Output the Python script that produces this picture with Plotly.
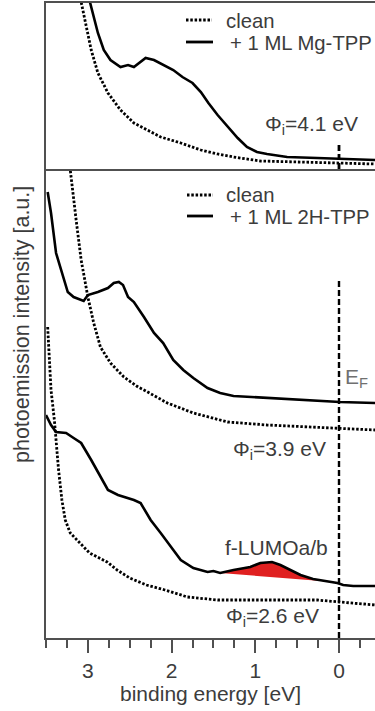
import numpy as np
import plotly.graph_objects as go

# ---------------- data (binding energy [eV], intensity [a.u.]) ----------------
# top panel: Mg-TPP
mg_clean_be = [3.10, 3.02, 2.96, 2.88, 2.76, 2.61, 2.45, 2.29, 2.13, 1.89, 1.65, 1.45, 1.26, 0.94, 0.46, -0.01, -0.43]
mg_clean_i = [1.75, 1.42, 1.19, 0.96, 0.76, 0.59, 0.46, 0.39, 0.32, 0.26, 0.19, 0.15, 0.12, 0.08, 0.07, 0.06, 0.05]

mg_tpp_be = [3.00, 2.88, 2.81, 2.73, 2.61, 2.52, 2.45, 2.37, 2.31, 2.21, 2.10, 1.98, 1.87, 1.75, 1.65, 1.56,
             1.45, 1.33, 1.21, 1.10, 0.98, 0.86, 0.62, 0.26, -0.01, -0.43]
mg_tpp_i = [1.75, 1.36, 1.19, 1.09, 1.02, 1.04, 1.02, 1.07, 1.11, 1.09, 1.04, 0.99, 0.92, 0.86, 0.77, 0.66,
            0.54, 0.42, 0.31, 0.22, 0.17, 0.15, 0.12, 0.11, 0.10, 0.09]

# bottom panel: 2H-TPP, work function 3.9 eV
h2_clean_be = [3.23, 3.21, 3.14, 3.08, 3.00, 2.93, 2.85, 2.73, 2.57, 2.40, 2.33, 2.05, 1.74, 1.33, 0.86, 0.38, -0.01, -0.43]
h2_clean_i = [4.80, 4.68, 4.18, 3.78, 3.41, 3.15, 2.91, 2.75, 2.61, 2.51, 2.48, 2.35, 2.25, 2.16, 2.13, 2.11, 2.10, 2.08]

h2_tpp_be = [3.48, 3.44, 3.38, 3.32, 3.24, 3.17, 3.05, 3.00, 2.88, 2.76, 2.69, 2.63, 2.58, 2.52, 2.45, 2.33,
             2.21, 2.10, 1.98, 1.86, 1.74, 1.57, 1.42, 1.26, 0.86, 0.46, -0.01, -0.43]
h2_tpp_i = [4.46, 4.25, 3.85, 3.68, 3.46, 3.41, 3.37, 3.43, 3.46, 3.50, 3.55, 3.56, 3.53, 3.41, 3.36, 3.21,
            3.05, 2.95, 2.78, 2.68, 2.60, 2.50, 2.45, 2.42, 2.40, 2.38, 2.36, 2.35]

# bottom panel: 2H-TPP, work function 2.6 eV
lo_clean_be = [3.48, 3.46, 3.44, 3.40, 3.38, 3.35, 3.31, 3.27, 3.21, 3.10, 2.98, 2.77, 2.65, 2.50, 2.30, 2.08,
               1.81, 1.45, 0.86, 0.26, -0.01, -0.43]
lo_clean_i = [3.11, 2.78, 2.48, 2.18, 1.98, 1.68, 1.38, 1.18, 1.05, 0.95, 0.85, 0.76, 0.68, 0.60, 0.53, 0.48,
              0.41, 0.38, 0.38, 0.38, 0.36, 0.33]

lo_tpp_be = [3.50, 3.44, 3.38, 3.26, 3.17, 3.08, 2.96, 2.85, 2.76, 2.64, 2.45, 2.37, 2.25, 2.13, 2.01, 1.89,
             1.74, 1.65, 1.57, 1.50, 1.42, 1.26, 1.06, 0.94, 0.80, 0.70, 0.58, 0.46, 0.31, 0.14, 0.02,
             -0.05, -0.17, -0.43]
lo_tpp_i = [2.23, 2.13, 2.06, 2.05, 2.00, 1.95, 1.78, 1.61, 1.48, 1.43, 1.38, 1.35, 1.18, 1.05, 0.91, 0.78,
            0.70, 0.68, 0.66, 0.67, 0.65, 0.68, 0.71, 0.75, 0.76, 0.73, 0.68, 0.63, 0.59, 0.57, 0.55,
            0.53, 0.52, 0.52]

# f-LUMO peak integration window (binding energy)
lumo_window = [1.42, 0.10]

# Fermi level markers
ef_be = 0.0
ef_top_i = [0.0, 0.27]
ef_bot_i = [0.0, 3.58]

x_range = [3.5, -0.43]
top_range = [0, 1.66]
bot_range = [0, 4.69]

x_tickvals = [3, 2, 1, 0]
x_ticktext = ["3", "2", "1", "0"]

# ---------------- styling ----------------
FONT = "Liberation Sans, Arial, sans-serif"
TXT = "#3c3c3c"
AX = "#505050"
W, H = 375, 711
ML, MR, MT, MB = 46, 0, 3, 73
PW, PH = W - ML - MR, H - MT - MB
split = 1 - 166 / PH


def px(x):
    return (x - ML) / PW


def py(y):
    return (H - MB - y) / PH


SOLID = dict(color="black", width=2.6)
DOTDASH = "2.5px,1.8px"
DOT = dict(color="black", width=2.8, dash=DOTDASH)

fig = go.Figure()

# red f-LUMO area: curve above the straight background between window edges
be_asc = np.array(lo_tpp_be[::-1])
i_asc = np.array(lo_tpp_i[::-1])
hi, lo = lumo_window
i_hi = float(np.interp(hi, be_asc, i_asc))
i_lo = float(np.interp(lo, be_asc, i_asc))
poly_x = [hi] + [b for b in lo_tpp_be if lo < b < hi] + [lo]
poly_y = [i_hi] + [v for b, v in zip(lo_tpp_be, lo_tpp_i) if lo < b < hi] + [i_lo]
fig.add_trace(go.Scatter(x=poly_x, y=poly_y, fill="toself", fillcolor="#e02020",
                         line=dict(width=0), mode="lines", hoverinfo="skip",
                         xaxis="x", yaxis="y", showlegend=False))

# bottom panel curves
fig.add_trace(go.Scatter(x=h2_clean_be, y=h2_clean_i, mode="lines", line=DOT, xaxis="x", yaxis="y", showlegend=False))
fig.add_trace(go.Scatter(x=h2_tpp_be, y=h2_tpp_i, mode="lines", line=SOLID, xaxis="x", yaxis="y", showlegend=False))
fig.add_trace(go.Scatter(x=lo_clean_be, y=lo_clean_i, mode="lines", line=DOT, xaxis="x", yaxis="y", showlegend=False))
fig.add_trace(go.Scatter(x=lo_tpp_be, y=lo_tpp_i, mode="lines", line=SOLID, xaxis="x", yaxis="y", showlegend=False))
fig.add_trace(go.Scatter(x=[ef_be, ef_be], y=ef_bot_i, mode="lines",
                         line=dict(color="black", width=2.4, dash="6px,3px"), xaxis="x", yaxis="y", showlegend=False))

# top panel curves
fig.add_trace(go.Scatter(x=mg_clean_be, y=mg_clean_i, mode="lines", line=DOT, xaxis="x2", yaxis="y2", showlegend=False))
fig.add_trace(go.Scatter(x=mg_tpp_be, y=mg_tpp_i, mode="lines", line=SOLID, xaxis="x2", yaxis="y2", showlegend=False))
fig.add_trace(go.Scatter(x=[ef_be, ef_be], y=ef_top_i, mode="lines",
                         line=dict(color="black", width=2.8, dash="6px,3px"), xaxis="x2", yaxis="y2", showlegend=False))

# legend samples (drawn as shapes in paper coordinates)
shapes = []
for (x0, x1, yy, dotted) in [(186, 212, 20, True), (186, 213, 42, False),
                             (187, 213, 195, True), (187, 213, 216, False)]:
    shapes.append(dict(type="line", xref="paper", yref="paper", x0=px(x0), x1=px(x1), y0=py(yy), y1=py(yy),
                       line=dict(color="black", width=2.8,
                                 dash=DOTDASH if dotted else "solid")))

ann = []


def text(s, x, y, xanchor="left", size=21, color=TXT):
    ann.append(dict(text=s, x=px(x), y=py(y), xref="paper", yref="paper", showarrow=False,
                    xanchor=xanchor, yanchor="middle", font=dict(family=FONT, size=size, color=color)))


text("clean", 224, 21, size=20.3)
text("+ 1 ML Mg-TPP", 228, 43, size=20.3)
text("clean", 224, 195, size=20.3)
text("+ 1 ML 2H-TPP", 228, 217, size=20.3)
text("Φ<sub>i</sub>=4.1 eV", 311, 125, "center")
text("Φ<sub>i</sub>=3.9 eV", 279, 450, "center")
text("f-LUMOa/b", 276, 547, "center")
text("Φ<sub>i</sub>=2.6 eV", 272, 617, "center")
text("E<sub>F</sub>", 356, 378, "center", color="#707070")

ann.append(dict(text="photoemission intensity [a.u.]", x=px(22), y=py(325), xref="paper", yref="paper",
                showarrow=False, textangle=-90, xanchor="center", yanchor="middle",
                font=dict(family=FONT, size=21.5, color=TXT)))

fig.update_layout(
    width=W, height=H,
    margin=dict(l=ML, r=MR, t=MT, b=MB),
    paper_bgcolor="white", plot_bgcolor="white",
    showlegend=False,
    shapes=shapes, annotations=ann,
    xaxis=dict(domain=[0, 1], range=x_range, anchor="y", showgrid=False, zeroline=False,
               showline=True, linecolor=AX, linewidth=2,
               ticks="outside", ticklen=13, tickwidth=2, tickcolor=AX,
               tickvals=x_tickvals, ticktext=x_ticktext,
               tickfont=dict(family=FONT, size=21, color=TXT),
               minor=dict(ticks="outside", ticklen=8, tickwidth=2, tickcolor=AX, dtick=0.25, tick0=0),
               title=dict(text="binding energy [eV]", font=dict(family=FONT, size=21, color=TXT), standoff=4)),
    yaxis=dict(domain=[0, split], range=bot_range, anchor="x", showgrid=False, zeroline=False,
               showline=True, linecolor=AX, linewidth=2, showticklabels=False, ticks=""),
    xaxis2=dict(domain=[0, 1], range=x_range, anchor="y2", matches="x", showgrid=False, zeroline=False,
                showline=True, mirror=True, linecolor=AX, linewidth=2, showticklabels=False, ticks=""),
    yaxis2=dict(domain=[split, 1], range=top_range, anchor="x2", showgrid=False, zeroline=False,
                showline=True, linecolor=AX, linewidth=2, showticklabels=False, ticks=""),
)

fig.write_html("out.html")
